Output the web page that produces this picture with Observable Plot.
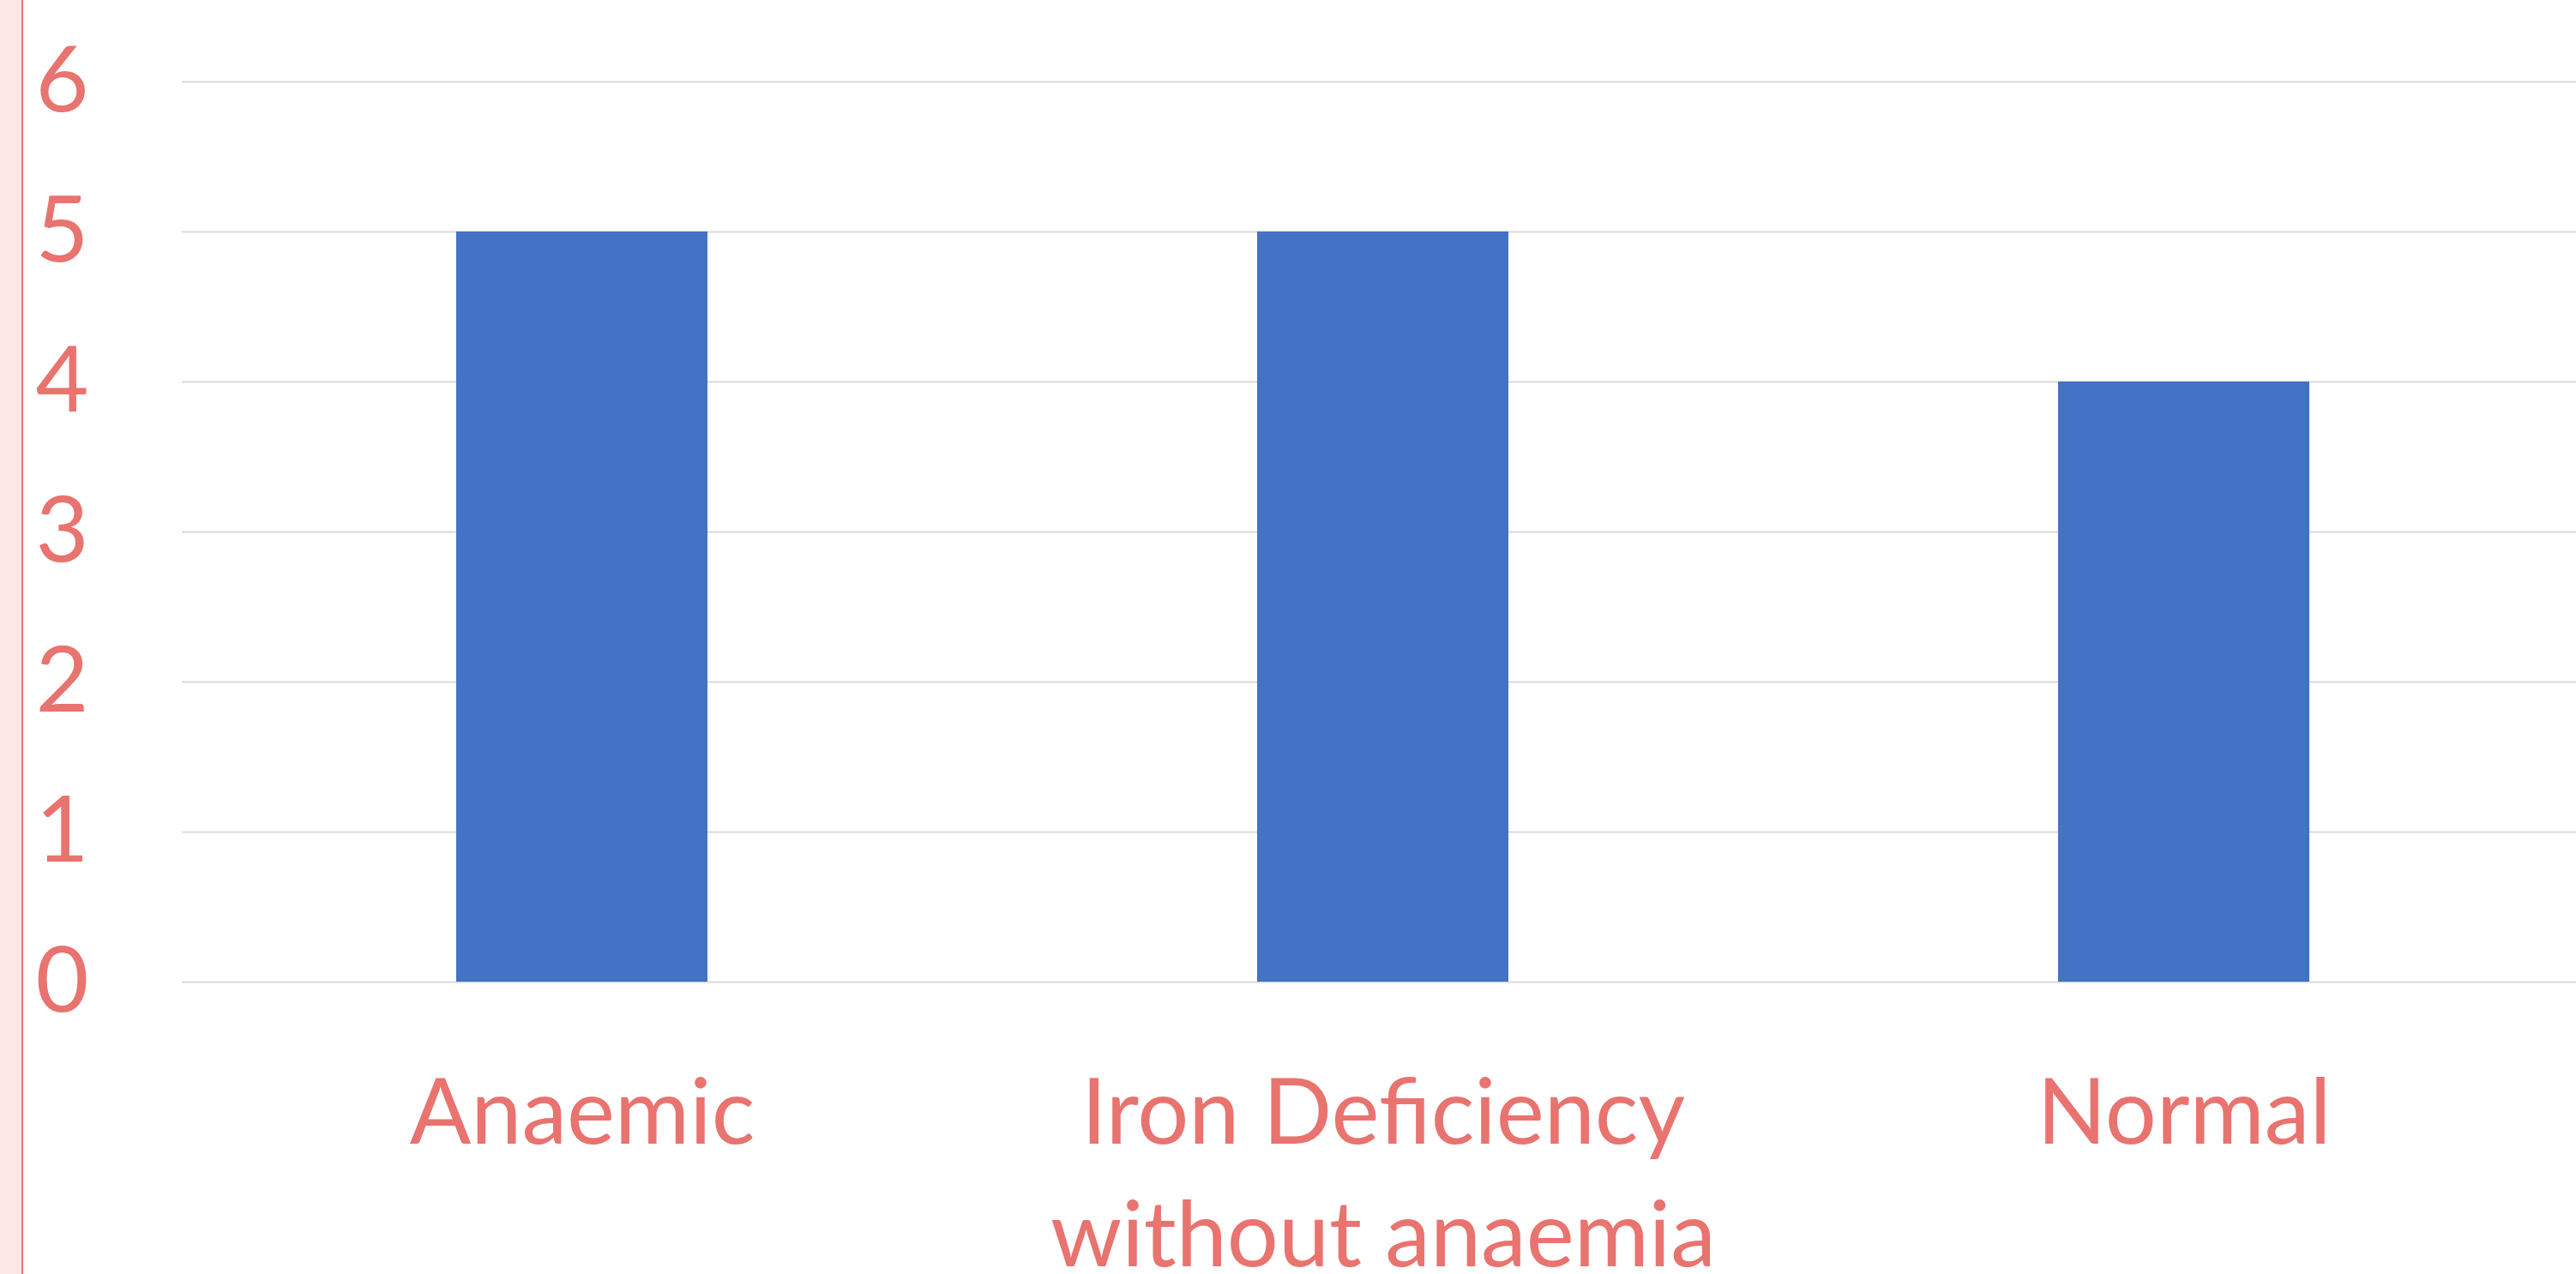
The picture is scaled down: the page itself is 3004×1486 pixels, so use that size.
<!DOCTYPE html>
<html>
<head>
<meta charset="utf-8">
<script src="https://cdn.jsdelivr.net/npm/d3@7"></script>
<script src="https://cdn.jsdelivr.net/npm/@observablehq/plot@0.6"></script>
<style>
  html, body { margin: 0; padding: 0; background: #ffffff; overflow: hidden; }
  #wrap { position: relative; width: 3004px; height: 1486px; }
  #strip { position: absolute; left: 0; top: 0; width: 25px; height: 1486px; background: #fbe8e6; border-right: 2px solid #e8736f; }
</style>
</head>
<body>
<div id="wrap"><div id="strip"></div></div>
<script>
const categories = ["Anaemic", "Iron Deficiency without anaemia", "Normal"];
const values = [5, 5, 4];
const yTicks = [0, 1, 2, 3, 4, 5, 6];

const data = categories.map((c, i) => ({category: c, value: values[i]}));
const textColor = "#e8736f";
const font = "Lato, 'Open Sans', sans-serif";

const chart = Plot.plot({
  width: 3004,
  height: 1486,
  marginLeft: 212,
  marginRight: 0,
  marginTop: 95,
  marginBottom: 341,
  style: {background: "transparent", fontFamily: font, color: textColor},
  x: {domain: categories, range: [212, 3014], paddingInner: 0.686, paddingOuter: 0.343, label: null},
  y: {domain: [0, 6], label: null},
  marks: [
    Plot.gridY(yTicks, {stroke: "#d9d9d9", strokeOpacity: 1, strokeWidth: 2}),
    Plot.barY(data, {x: "category", y: "value", fill: "#4472c4"}),
    Plot.axisY(yTicks, {tickSize: 0, tickPadding: 109, fontSize: 107, fill: textColor, fontFamily: font,
      label: null, tickFormat: d => String(d)}),
    Plot.axisX({tickSize: 0, tickPadding: 87, fontSize: 106, fill: textColor, fontFamily: font, label: null,
      lineHeight: 1.35,
      tickFormat: d => d.replace(" without", "\nwithout")})
  ]
});
chart.style.position = "absolute";
chart.style.left = "0";
chart.style.top = "0";
document.getElementById("wrap").prepend(chart);
</script>
</body>
</html>
